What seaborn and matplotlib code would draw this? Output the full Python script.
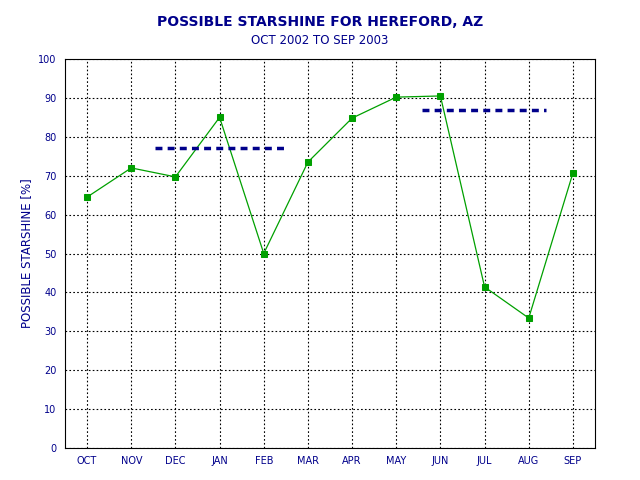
import matplotlib
matplotlib.use("Agg")
import matplotlib.pyplot as plt
import seaborn as sns
import pandas as pd

months = ["OCT","NOV","DEC","JAN","FEB","MAR","APR","MAY","JUN","JUL","AUG","SEP"]
values = [64.5, 72.0, 69.7, 85.0, 50.0, 73.5, 84.8, 90.2, 90.5, 41.4, 33.4, 70.7]
ref1_x = [1.54, 4.48]; ref1_y = [77, 77]
ref2_x = [7.58, 10.4]; ref2_y = [87, 87]

sns.set_style("white")
navy = "#00008B"
fig = plt.figure(figsize=(6.4, 4.8), dpi=100)
ax = fig.add_axes([65/640, 1-448/480, 530/640, 389/480])
df = pd.DataFrame({"x": range(len(months)), "y": values})
sns.lineplot(data=df, x="x", y="y", ax=ax, color="#00A000", lw=0.9,
             marker="s", markersize=5, markeredgecolor="#00A000")
ax.plot(ref1_x, ref1_y, color=navy, ls=(0, (2, 1.5)), lw=2.5)
ax.plot(ref2_x, ref2_y, color=navy, ls=(0, (2, 1.5)), lw=2.5)
ax.set_xlim(-0.5, 11.5)
ax.set_ylim(0, 100)
ax.set_xticks(range(len(months)))
ax.set_xticklabels(months)
ax.set_yticks(range(0, 101, 10))
ax.grid(True, color="black", ls=(0, (1.5, 2)), lw=0.8)
for s in ax.spines.values():
    s.set_color("black"); s.set_linewidth(0.8)
ax.tick_params(colors=navy, labelsize=7, length=0, pad=6)
ax.tick_params(axis="x", labelcolor=navy)
ax.set_xlabel("")
ax.set_ylabel("POSSIBLE STARSHINE [%]", color=navy, fontsize=8.5)
fig.text(0.5, 1-22/480, "POSSIBLE STARSHINE FOR HEREFORD, AZ", ha="center", va="center",
         color=navy, fontsize=10, fontweight="bold")
fig.text(0.5, 1-40/480, "OCT 2002 TO SEP 2003", ha="center", va="center", color=navy, fontsize=8.5)
fig.savefig("out.png", dpi=100)
